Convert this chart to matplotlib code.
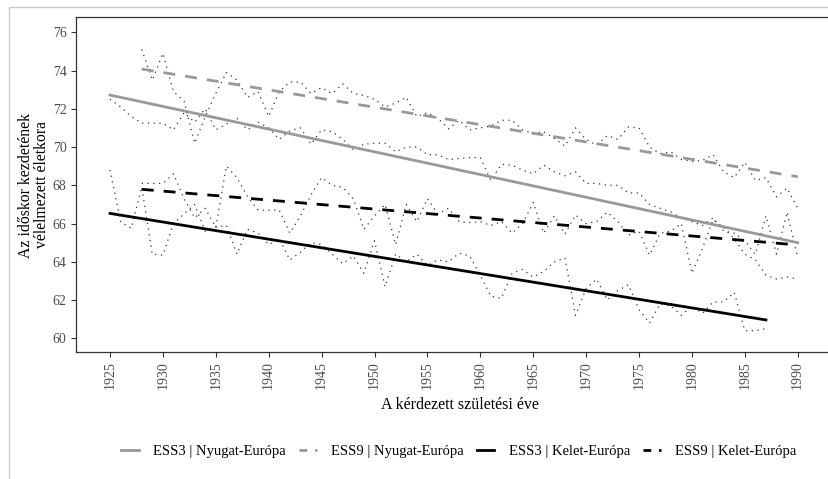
import matplotlib
matplotlib.use("Agg")
import numpy as np
import matplotlib.pyplot as plt
from matplotlib.lines import Line2D
from matplotlib.patches import Rectangle

plt.rcParams["font.family"] = ["Liberation Serif", "DejaVu Serif"]

# raw yearly means (dotted)
years_ess3_w = np.arange(1925, 1991)
ess3_w = [72.5, 72.1, 71.6, 71.25, 71.25, 71.25, 70.9, 71.8, 71.3, 72.0,
          70.9, 71.2, 71.5, 70.9, 71.3, 71.0, 70.4, 70.85, 71.0, 70.15,
          70.9, 70.8, 70.4, 69.85, 70.15, 70.2, 70.2, 69.75, 70.0, 70.0,
          69.6, 69.6, 69.35, 69.4, 69.45, 69.45, 68.25, 69.1, 69.05, 68.8,
          68.6, 69.05, 68.7, 68.5, 68.7, 68.1, 68.1, 68.0, 68.0, 67.6,
          67.6, 67.0, 66.8, 66.6, 66.3, 66.1, 65.9, 66.3, 65.6, 65.5,
          65.1, 64.4, 66.4, 64.4, 66.6, 64.2]

years_ess9_w = np.arange(1928, 1991)
ess9_w = [75.1, 73.5, 74.9, 72.9, 72.4, 70.2, 71.6, 72.8, 73.9, 73.5,
          72.6, 72.9, 71.6, 72.9, 73.4, 73.4, 72.8, 73.1, 72.8, 73.3,
          72.8, 72.7, 72.5, 72.1, 72.3, 72.6, 71.6, 71.8, 71.5, 70.95,
          71.4, 70.9, 71.0, 71.1, 71.4, 71.4, 70.9, 70.7, 70.8, 70.45,
          70.05, 71.0, 70.4, 70.1, 70.6, 70.4, 71.05, 71.0, 70.0, 69.65,
          69.75, 69.35, 69.25, 69.3, 69.6, 68.7, 68.4, 69.2, 68.25, 68.4,
          67.4, 67.85, 66.8]

years_ess3_e = np.arange(1925, 1988)
ess3_e = [68.8, 66.1, 65.75, 67.9, 64.4, 64.35, 66.0, 66.5, 67.0, 65.6,
          65.8, 65.9, 64.4, 65.7, 65.5, 64.9, 65.2, 64.1, 64.5, 65.0,
          64.9, 64.4, 63.9, 64.3, 63.4, 65.1, 62.7, 64.4, 64.0, 64.4,
          63.8, 64.1, 64.0, 64.45, 64.3, 63.3, 62.2, 62.1, 63.4, 63.6,
          63.2, 63.5, 64.0, 64.2, 61.2, 62.6, 63.1, 62.0, 62.5, 62.8,
          61.5, 60.8, 61.8, 61.7, 61.2, 61.7, 61.3, 61.9, 61.9, 62.4,
          60.4, 60.4, 60.5]

years_ess9_e = np.arange(1928, 1991)
ess9_e = [68.1, 68.1, 68.1, 68.6, 67.3, 66.3, 66.8, 65.8, 69.0, 68.4,
          67.4, 66.7, 66.7, 66.7, 65.5, 66.4, 67.5, 68.4, 68.0, 67.9,
          67.3, 65.7, 66.4, 67.0, 64.9, 67.0, 66.1, 67.3, 66.5, 66.8,
          66.1, 66.05, 66.1, 65.9, 66.1, 65.5, 66.0, 67.1, 65.5, 66.4,
          65.45, 66.45, 66.0, 66.1, 66.6, 66.1, 65.4, 65.6, 64.35, 65.5,
          65.6, 66.0, 63.4, 64.7, 66.2, 65.8, 65.2, 64.4, 64.1, 63.3,
          63.1, 63.2, 63.1]

# fitted trend lines (end points)
trend_ess3_w_x = [1925, 1990]
trend_ess3_w_y = [72.72, 65.0]
trend_ess9_w_x = [1928, 1990]
trend_ess9_w_y = [74.08, 68.45]
trend_ess3_e_x = [1925, 1987]
trend_ess3_e_y = [66.53, 60.96]
trend_ess9_e_x = [1928, 1990]
trend_ess9_e_y = [67.79, 64.88]

labels = ["ESS3 | Nyugat-Európa", "ESS9 | Nyugat-Európa",
          "ESS3 | Kelet-Európa", "ESS9 | Kelet-Európa"]
x_ticks = list(range(1925, 1991, 5))
y_ticks = [60, 62, 64, 66, 68, 70, 72, 74, 76]

W, H = 829, 479
fig = plt.figure(figsize=(W / 100, H / 100), dpi=100)
ax = fig.add_axes([76 / W, 1 - 352 / H, (W - 76) / W, (352 - 17) / H])

dot = dict(color="#333333", lw=0.9, ls=(0, (1, 3.6)))
for xs, ys in [(years_ess3_w, ess3_w), (years_ess9_w, ess9_w),
               (years_ess3_e, ess3_e), (years_ess9_e, ess9_e)]:
    ax.plot(xs, ys, **dot)

gray = "#999999"
dash = (0, (4.3, 3.6))
ax.plot(trend_ess3_w_x, trend_ess3_w_y, color=gray, lw=2.0, ls="-")
ax.plot(trend_ess9_w_x, trend_ess9_w_y, color=gray, lw=2.0, ls=dash)
ax.plot(trend_ess3_e_x, trend_ess3_e_y, color="black", lw=2.0, ls="-")
ax.plot(trend_ess9_e_x, trend_ess9_e_y, color="black", lw=2.0, ls=dash)

ax.set_xlim(1925 - 34 / 10.58, 1990 + (W - 797.7) / 10.58)
ax.set_ylim(60 - (352 - 338.3) / 19.13, 76 + (32.3 - 17) / 19.13)
ax.set_xticks(x_ticks)
ax.set_yticks(y_ticks)
ax.tick_params(axis="x", labelrotation=90)
ax.tick_params(length=3.8, width=0.8, color="#333333", labelcolor="#4d4d4d",
               labelsize=10, pad=3)
for s in ["top", "left", "bottom"]:
    ax.spines[s].set_color("#333333")
    ax.spines[s].set_linewidth(0.9)
ax.spines["right"].set_visible(False)

ax.set_xlabel("A kérdezett születési éve", fontsize=11.5, va="center")
ax.xaxis.set_label_coords((460 - 76) / (W - 76), (352 - 405) / 335)
ax.set_ylabel("Az időskor kezdetének\nvélelmezett életkora", fontsize=11.3,
              va="center", linespacing=0.95)
ax.yaxis.set_label_coords((34 - 76) / (W - 76), (352 - 185) / 335)

leg_dash = (0, (2.8, 2.8))
handles = [Line2D([], [], color=gray, lw=2.0, ls="-"),
           Line2D([], [], color=gray, lw=2.0, ls=leg_dash),
           Line2D([], [], color="black", lw=2.0, ls="-"),
           Line2D([], [], color="black", lw=2.0, ls=leg_dash)]
fig.legend(handles, labels, loc="center", bbox_to_anchor=(459 / W, 1 - 451 / H),
           ncol=4, frameon=False, fontsize=10.5, handlelength=1.2,
           handletextpad=1.0, columnspacing=0.9)

fig.add_artist(Rectangle((9 / W, -0.1), 1.2, 1.1 - 7 / H, transform=fig.transFigure,
                         fill=False, edgecolor="#cccccc", lw=1.0))

fig.savefig("out.png", dpi=100)
